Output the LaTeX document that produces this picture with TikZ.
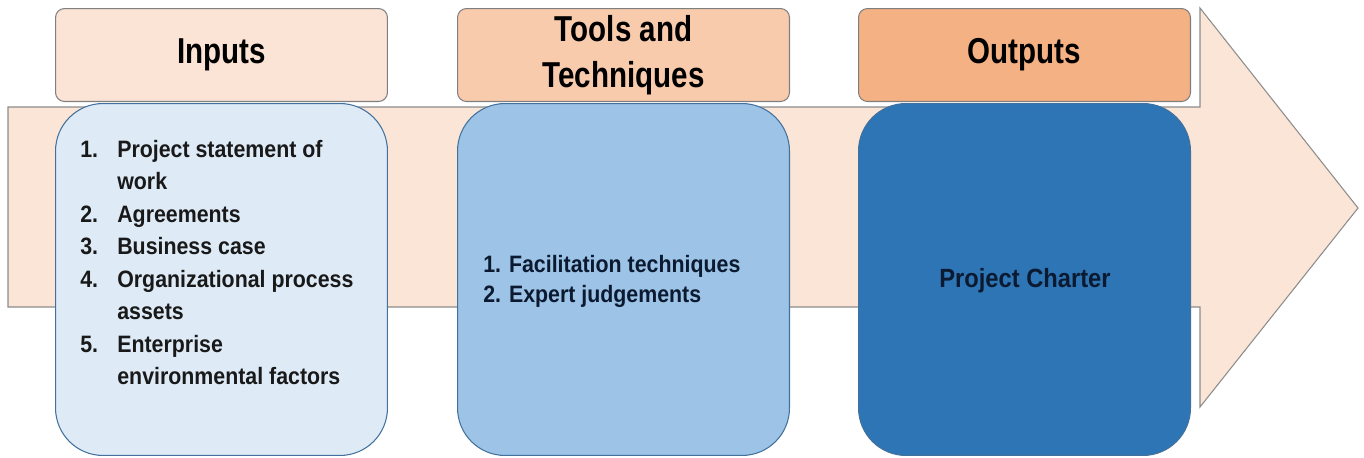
\documentclass[tikz,border=0pt]{standalone}
\usepackage{fontspec}
\setmainfont{Liberation Sans}
\newfontfamily\headfont[FakeStretch=0.82]{Liberation Sans}
\newfontfamily\listfont[FakeStretch=0.9]{Liberation Sans}

\definecolor{arrowfill}{HTML}{FBE5D6}
\definecolor{arrowline}{HTML}{8C8C8C}
\definecolor{headline}{HTML}{7F7F7F}
\definecolor{bodyline}{HTML}{41719C}
\definecolor{inhead}{HTML}{FBE3D6}
\definecolor{toolhead}{HTML}{F8CBAD}
\definecolor{outhead}{HTML}{F4B183}
\definecolor{inbody}{HTML}{DEEBF7}
\definecolor{toolbody}{HTML}{9DC3E6}
\definecolor{outbody}{HTML}{2E75B6}
\definecolor{navytext}{HTML}{0B1A30}

\tikzset{
  headbox/.style={draw=headline, line width=0.6pt, rounded corners=0.18cm,
    minimum width=6.64cm, minimum height=1.86cm, anchor=north west,
    inner sep=0pt, align=center,
    font=\headfont\bfseries\fontsize{20.5}{26.5}\selectfont},
  bodybox/.style={draw=bodyline, line width=0.6pt, rounded corners=0.95cm,
    minimum width=6.64cm, minimum height=7.04cm, anchor=north west},
  listtext/.style={inner sep=0pt, align=left, text=black!90,
    font=\listfont\bfseries\fontsize{13.5}{18.5}\selectfont},
}

\begin{document}
\begin{tikzpicture}[x=0.02cm, y=-0.02cm]
    \useasboundingbox (0,0) rectangle (1364,457);

    % --- 1. big process arrow ---
    \draw[fill=arrowfill, draw=arrowline, line width=0.6pt]
      (8,107) -- (1200,107) -- (1200,8) -- (1358,208) -- (1200,407)
      -- (1200,307) -- (8,307) -- cycle;

    % --- 2. body boxes ---
    \node[bodybox, fill=inbody]   (bIn)   at (55,103)  {};
    \node[bodybox, fill=toolbody] (bTool) at (457,103) {};
    \node[bodybox, fill=outbody]  (bOut)  at (858,103) {};

    % --- 3. header boxes ---
    \node[headbox, fill=inhead]   (hIn)   at (55,8)  {Inputs};
    \node[headbox, fill=toolhead] (hTool) at (457,8) {Tools and\\Techniques};
    \node[headbox, fill=outhead]  (hOut)  at (858,8) {Outputs};

    % --- 4. box contents ---
    \node[listtext, anchor=north west] (tIn) at (80,134) {%
      \begin{tabular}{@{}p{0.74cm}@{}l@{}}
        1. & Project statement of\\
           & work\\
        2. & Agreements\\
        3. & Business case\\
        4. & Organizational process\\
           & assets\\
        5. & Enterprise\\
           & environmental factors
      \end{tabular}};
    \node[listtext, anchor=west, text=navytext,
      font=\listfont\bfseries\fontsize{13.5}{17}\selectfont] (tTool) at (483,281)
      {1. Facilitation techniques\\2. Expert judgements};
    \node[listtext, text=navytext,
      font=\listfont\bfseries\fontsize{15}{18}\selectfont] (tOut) at (1025,281)
      {Project Charter};
\end{tikzpicture}
\end{document}
